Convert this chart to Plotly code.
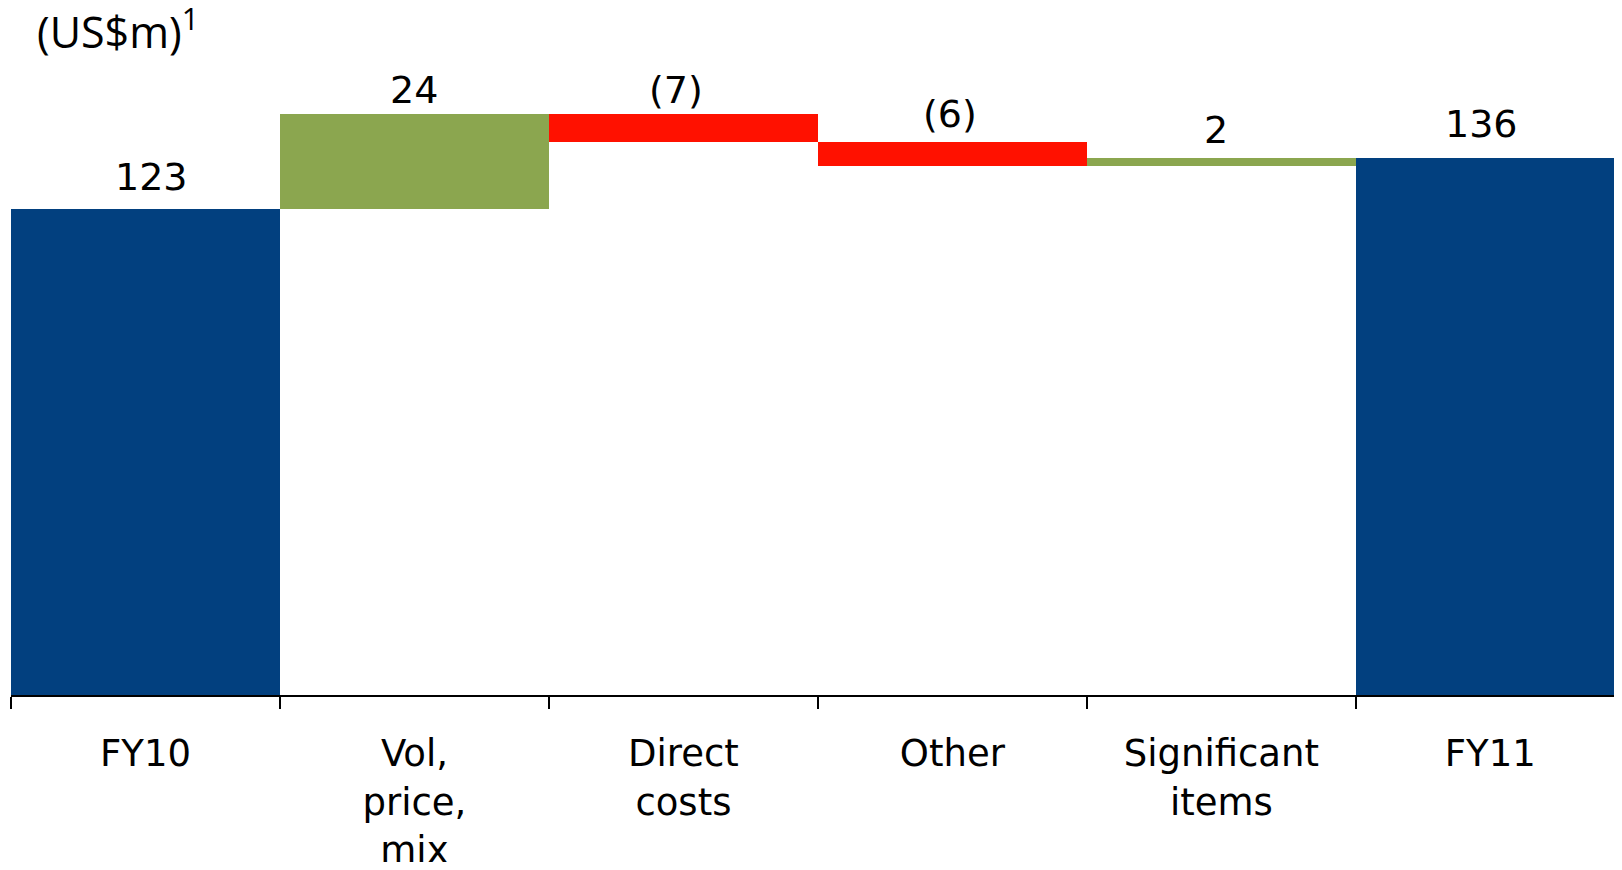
import plotly.graph_objects as go

categories = ["FY10", "Vol,<br>price,<br>mix", "Direct<br>costs", "Other", "Significant<br>items", "FY11"]
measures = ["absolute", "relative", "relative", "relative", "relative", "total"]
values = [123, 24, -7, -6, 2, 136]
value_labels = ["123", "24", "(7)", "(6)", "2", "136"]

# small per-label placement nudges (pixels), styling only
label_dx = [6, 0, -7, -2, -5, -9]
label_dy = [4, -4, -4, 0, 0, 6]

BLUE = "#02407F"
GREEN = "#8BA64F"
RED = "#FF1100"

fig = go.Figure()
fig.add_trace(go.Waterfall(
    x=categories,
    y=values,
    measure=measures,
    increasing=dict(marker=dict(color=GREEN, line=dict(width=0))),
    decreasing=dict(marker=dict(color=RED, line=dict(width=0))),
    totals=dict(marker=dict(color=BLUE, line=dict(width=0))),
    connector=dict(visible=False),
    textinfo="none",
    hoverinfo="skip",
))

# label positions: top of each bar from the running total
running = 0
tops = []
for m, v in zip(measures, values):
    if m == "absolute":
        running = v
        tops.append(v)
    elif m == "total":
        tops.append(running)
    else:
        prev = running
        running += v
        tops.append(max(prev, running))

for cat, t, lab, dx, dy in zip(categories, tops, value_labels, label_dx, label_dy):
    fig.add_annotation(x=cat, y=t, text=lab, showarrow=False, xanchor="center",
                       yanchor="bottom", yshift=4 + dy, xshift=dx,
                       font=dict(family="DejaVu Sans", size=38, color="#000000"))

W, H = 1606, 854
fig.update_layout(
    width=W, height=H,
    margin=dict(l=3, r=0, t=55, b=167, autoexpand=False),
    paper_bgcolor="white", plot_bgcolor="white",
    waterfallgap=0,
    showlegend=False,
    title=dict(text="(US$m)<sup>1</sup>", x=29 / W, xanchor="left", xref="container",
               y=1 - 25 / H, yanchor="middle", yref="container",
               font=dict(family="Open Sans", size=43, color="#000000")),
    xaxis=dict(
        type="category",
        range=[-0.5, 5.46],
        automargin=False,
        tickson="boundaries", ticks="outside", ticklen=12, tickwidth=2, tickcolor="#000000",
        showline=True, linecolor="#000000", linewidth=2,
        showgrid=False, zeroline=False,
        tickfont=dict(family="DejaVu Sans", size=37, color="#000000"),
        ticklabelstandoff=25,
    ),
    yaxis=dict(range=[0, 160], visible=False, showgrid=False, zeroline=False,
               automargin=False),
)

fig.write_html("out.html")
